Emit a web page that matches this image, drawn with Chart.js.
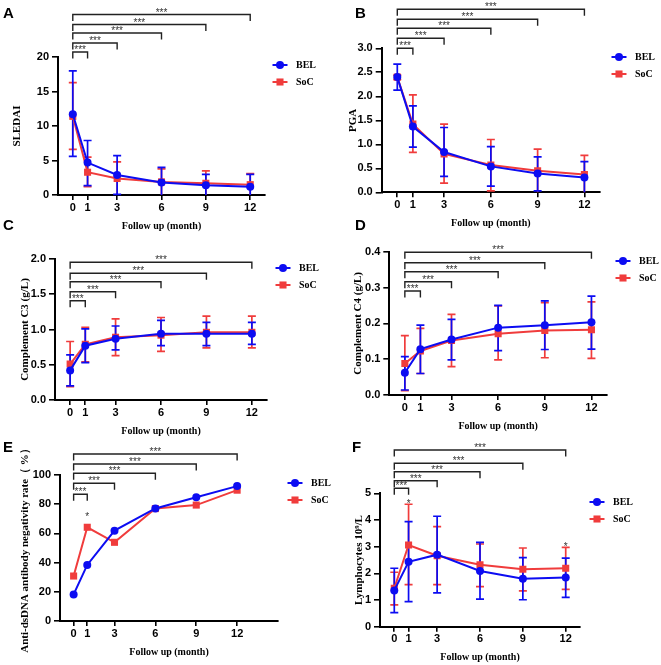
<!DOCTYPE html>
<html>
<head>
<meta charset="utf-8">
<script src="https://cdn.jsdelivr.net/npm/chart.js@4.4.0/dist/chart.umd.min.js"></script>
<style>
body { margin: 0; background: #fff; }
#wrap { position: relative; width: 661px; height: 665px; }
#wrap canvas { position: absolute; left: 0; top: 0; }
</style>
</head>
<body>
<div id="wrap">
  <canvas id="pA" width="661" height="665"></canvas>
  <canvas id="pB" width="661" height="665"></canvas>
  <canvas id="pC" width="661" height="665"></canvas>
  <canvas id="pD" width="661" height="665"></canvas>
  <canvas id="pE" width="661" height="665"></canvas>
  <canvas id="pF" width="661" height="665"></canvas>
</div>
<script>
// follow up months and groups
var months = [0, 1, 3, 6, 9, 12];
var groups = ['BEL', 'SoC'];
// brackets go from month 0 to these months (top to bottom)
var bracketTo = [12, 9, 6, 3, 1];
var bracketLabel = '***';

// A - SLEDAI (mean, lower and upper end of the error bar)
var sledaiBel   = [11.7, 4.7, 2.9, 1.8, 1.4, 1.2];
var sledaiBelLo = [5.6, 1.35, 0.1, 0, 0, 0];
var sledaiBelHi = [18.0, 7.9, 5.7, 4.0, 3.0, 3.0];
var sledaiSoc   = [11.4, 3.3, 2.4, 1.9, 1.7, 1.5];
var sledaiSocLo = [6.6, 1.2, 0, 0, 0, 0];
var sledaiSocHi = [16.3, 5.5, 4.8, 3.8, 3.5, 3.1];

// B - PGA
var pgaBel   = [2.40, 1.37, 0.84, 0.54, 0.39, 0.31];
var pgaBelLo = [2.13, 0.94, 0.33, 0.13, 0.03, 0];
var pgaBelHi = [2.67, 1.80, 1.35, 0.95, 0.74, 0.64];
var pgaSoc   = [2.40, 1.42, 0.80, 0.57, 0.45, 0.37];
var pgaSocLo = [2.35, 0.83, 0.19, 0.03, 0, 0];
var pgaSocHi = [2.44, 2.03, 1.42, 1.10, 0.90, 0.77];

// C - complement C3
var c3Bel   = [0.42, 0.77, 0.87, 0.94, 0.94, 0.94];
var c3BelLo = [0.20, 0.53, 0.71, 0.77, 0.77, 0.79];
var c3BelHi = [0.64, 1.01, 1.05, 1.13, 1.10, 1.10];
var c3Soc   = [0.51, 0.79, 0.89, 0.92, 0.96, 0.96];
var c3SocLo = [0.19, 0.54, 0.63, 0.69, 0.74, 0.74];
var c3SocHi = [0.83, 1.03, 1.15, 1.17, 1.19, 1.19];

// D - complement C4
var c4Bel   = [0.062, 0.128, 0.155, 0.188, 0.195, 0.203];
var c4BelLo = [0.014, 0.060, 0.098, 0.124, 0.127, 0.128];
var c4BelHi = [0.107, 0.195, 0.211, 0.250, 0.263, 0.276];
var c4Soc   = [0.088, 0.123, 0.152, 0.171, 0.180, 0.182];
var c4SocLo = [0.012, 0.060, 0.079, 0.098, 0.104, 0.102];
var c4SocHi = [0.166, 0.186, 0.225, 0.249, 0.258, 0.260];

// E - anti-dsDNA negativity rate (%)
var dsdnaBel = [18.2, 38.4, 61.9, 77.1, 84.7, 92.4];
var dsdnaSoc = [30.8, 64.2, 53.9, 77.0, 79.4, 89.6];

// F - lymphocytes
var lymBel   = [1.36, 2.43, 2.70, 2.09, 1.80, 1.84];
var lymBelLo = [0.53, 0.94, 1.27, 1.03, 1.01, 1.10];
var lymBelHi = [2.19, 3.94, 4.14, 3.16, 2.59, 2.57];
var lymSoc   = [1.44, 3.06, 2.66, 2.32, 2.15, 2.19];
var lymSocLo = [0.82, 1.58, 1.58, 1.50, 1.34, 1.40];
var lymSocHi = [2.04, 4.59, 3.75, 3.10, 2.95, 2.97];

var BLUE = '#0c0cf2';
var RED = '#f03c3c';
var SERIF = '"Liberation Serif", "Times New Roman", serif';
var SANS = '"Liberation Sans", Arial, sans-serif';

// layout of each panel (pixels in the page)
var panels = [
  { id: 'pA', letter: 'A', lx: 3, ly: 18, left: 58, top: 57, right: 265, bottom: 195, xMax: 13,
    yMax: 20, yStep: 5, dec: 0, yTitle: 'SLEDAI', yTitleX: 17,
    bel: sledaiBel, belLo: sledaiBelLo, belHi: sledaiBelHi, soc: sledaiSoc, socLo: sledaiSocLo, socHi: sledaiSocHi,
    legX: 280, legY: 65, brackets: [14.5, 24.5, 33, 43, 52], stars: [] },
  { id: 'pB', letter: 'B', lx: 355, ly: 18, left: 381.7, top: 48.3, right: 600, bottom: 192.3, xMax: 13,
    yMax: 3, yStep: 0.5, dec: 1, yTitle: 'PGA', yTitleX: 353,
    bel: pgaBel, belLo: pgaBelLo, belHi: pgaBelHi, soc: pgaSoc, socLo: pgaSocLo, socHi: pgaSocHi,
    legX: 619, legY: 57, brackets: [9.3, 19.3, 28.3, 38.3, 48.3], stars: [] },
  { id: 'pC', letter: 'C', lx: 3, ly: 230, left: 55, top: 259, right: 267, bottom: 400, xMax: 13,
    yMax: 2, yStep: 0.5, dec: 1, yTitle: 'Complement C3 (g/L)', yTitleX: 25,
    bel: c3Bel, belLo: c3BelLo, belHi: c3BelHi, soc: c3Soc, socLo: c3SocLo, socHi: c3SocHi,
    legX: 283, legY: 268, brackets: [262.3, 273.3, 281.7, 291.7, 300.7], stars: [] },
  { id: 'pD', letter: 'D', lx: 355, ly: 230, left: 389.3, top: 251.7, right: 607, bottom: 395, xMax: 13,
    yMax: 0.4, yStep: 0.1, dec: 1, yTitle: 'Complement C4 (g/L)', yTitleX: 358,
    bel: c4Bel, belLo: c4BelLo, belHi: c4BelHi, soc: c4Soc, socLo: c4SocLo, socHi: c4SocHi,
    legX: 623, legY: 261, brackets: [252.3, 262.7, 271.7, 281.7, 291], stars: [] },
  { id: 'pE', letter: 'E', lx: 3, ly: 452, left: 60, top: 475, right: 278, bottom: 621, xMax: 15,
    yMax: 100, yStep: 20, dec: 0, yTitle: 'Anti-dsDNA antibody negativity rate\uFF08 %\uFF09', yTitleX: 25,
    bel: dsdnaBel, belLo: null, belHi: null, soc: dsdnaSoc, socLo: null, socHi: null,
    legX: 295, legY: 483, brackets: [454, 464, 473.3, 483.3, 494.3], stars: [{ m: 1, on: 'soc', gap: 13 }] },
  { id: 'pF', letter: 'F', lx: 352, ly: 452, left: 380, top: 493.3, right: 580, bottom: 626.7, xMax: 13,
    yMax: 5, yStep: 1, dec: 0, yTitle: 'Lymphocytes 10\u2079/L', yTitleX: 359,
    bel: lymBel, belLo: lymBelLo, belHi: lymBelHi, soc: lymSoc, socLo: lymSocLo, socHi: lymSocHi,
    legX: 597, legY: 502, brackets: [450, 463.3, 471.7, 480.7, 488.3],
    stars: [{ m: 1, on: 'socHi', gap: 3 }, { m: 12, on: 'socHi', gap: 3 }] }
];

function pairs(vals) {
  return months.map(function (m, i) { return { x: m, y: vals[i] }; });
}

function errorBars(ctx, xs, ys, lo, hi, color) {
  if (!lo) return;
  ctx.save();
  ctx.strokeStyle = color;
  ctx.lineWidth = 1.7;
  for (var i = 0; i < months.length; i++) {
    var x = xs.getPixelForValue(months[i]);
    var y1 = ys.getPixelForValue(lo[i]);
    var y2 = ys.getPixelForValue(hi[i]);
    ctx.beginPath();
    ctx.moveTo(x, y1); ctx.lineTo(x, y2);
    ctx.moveTo(x - 4, y2); ctx.lineTo(x + 4, y2);
    if (lo[i] > 0) { ctx.moveTo(x - 4, y1); ctx.lineTo(x + 4, y1); }
    ctx.stroke();
  }
  ctx.restore();
}

function decor(p) {
  return {
    id: 'decor',
    beforeDatasetsDraw: function (chart) {
      var xs = chart.scales.x, ys = chart.scales.y;
      errorBars(chart.ctx, xs, ys, p.socLo, p.socHi, RED);
      errorBars(chart.ctx, xs, ys, p.belLo, p.belHi, BLUE);
    },
    afterDraw: function (chart) {
      var ctx = chart.ctx, xs = chart.scales.x, ys = chart.scales.y, area = chart.chartArea;
      ctx.save();
      // panel letter
      ctx.fillStyle = '#000';
      ctx.font = 'bold 15px ' + SANS;
      ctx.textAlign = 'left';
      ctx.textBaseline = 'alphabetic';
      ctx.fillText(p.letter, p.lx, p.ly);
      // axis titles
      ctx.font = 'bold 10px ' + SERIF;
      ctx.textAlign = 'center';
      ctx.textBaseline = 'middle';
      ctx.fillText('Follow up (month)', (area.left + area.right) / 2, area.bottom + 31);
      ctx.save();
      ctx.font = 'bold 11px ' + SERIF;
      ctx.translate(p.yTitleX, (area.top + area.bottom) / 2);
      ctx.rotate(-Math.PI / 2);
      ctx.fillText(p.yTitle, 0, 0);
      ctx.restore();
      // legend
      var leg = [[BLUE, 'circle', 4], [RED, 'rect', 5]];
      for (var g = 0; g < groups.length; g++) {
        var ly = p.legY + g * 17;
        ctx.strokeStyle = leg[g][0];
        ctx.fillStyle = leg[g][0];
        ctx.lineWidth = 2;
        ctx.beginPath();
        ctx.moveTo(p.legX - 7.5, ly); ctx.lineTo(p.legX + 7.5, ly);
        ctx.stroke();
        Chart.helpers.drawPoint(ctx, { pointStyle: leg[g][1], radius: leg[g][2], borderWidth: 0 }, p.legX, ly);
        ctx.fillStyle = '#000';
        ctx.font = 'bold 10px ' + SERIF;
        ctx.textAlign = 'left';
        ctx.fillText(groups[g], p.legX + 16, ly + 0.5);
      }
      // significance brackets
      var x0 = xs.getPixelForValue(0);
      ctx.strokeStyle = '#222';
      ctx.lineWidth = 1.4;
      ctx.fillStyle = '#333';
      ctx.font = '10px ' + SANS;
      ctx.textAlign = 'center';
      ctx.textBaseline = 'alphabetic';
      for (var b = 0; b < bracketTo.length; b++) {
        var x1 = xs.getPixelForValue(bracketTo[b]);
        var by = p.brackets[b];
        ctx.beginPath();
        ctx.moveTo(x0, by + 6.5); ctx.lineTo(x0, by); ctx.lineTo(x1, by); ctx.lineTo(x1, by + 6.5);
        ctx.stroke();
        ctx.fillText(bracketLabel, (x0 + x1) / 2, by + 1);
      }
      // single stars
      p.stars.forEach(function (s) {
        var idx = months.indexOf(s.m);
        var sy = ys.getPixelForValue(p[s.on][idx]) - s.gap;
        ctx.fillText('*', xs.getPixelForValue(s.m), sy + 5.5);
      });
      ctx.restore();
    }
  };
}

function drawPanel(p) {
  var tickFont = { family: SANS, size: 11, weight: 'bold' };
  new Chart(document.getElementById(p.id), {
    type: 'line',
    data: {
      datasets: [
        { label: groups[0], data: pairs(p.bel), borderColor: BLUE, backgroundColor: BLUE,
          borderWidth: 2, pointStyle: 'circle', pointRadius: 4, pointBorderWidth: 0, tension: 0 },
        { label: groups[1], data: pairs(p.soc), borderColor: RED, backgroundColor: RED,
          borderWidth: 2, pointStyle: 'rect', pointRadius: 5, pointBorderWidth: 0, tension: 0 }
      ]
    },
    options: {
      responsive: false,
      animation: false,
      devicePixelRatio: 1,
      events: [],
      layout: { padding: { left: p.left - 40, top: p.top, right: 661 - p.right, bottom: 665 - p.bottom - 28 } },
      plugins: { legend: { display: false }, tooltip: { enabled: false } },
      scales: {
        x: {
          type: 'linear', min: -1, max: p.xMax,
          afterFit: function (s) { s.height = 28; },
          afterBuildTicks: function (s) { s.ticks = months.map(function (m) { return { value: m }; }); },
          ticks: { font: tickFont, color: '#000', padding: 1, autoSkip: false, maxRotation: 0 },
          grid: { drawOnChartArea: false, color: '#000', lineWidth: 1.6, tickLength: 5 },
          border: { color: '#000', width: 2 }
        },
        y: {
          min: 0, max: p.yMax,
          afterFit: function (s) { s.width = 40; },
          ticks: { stepSize: p.yStep, font: tickFont, color: '#000', padding: 3,
                   callback: function (v) { return v.toFixed(p.dec); } },
          grid: { drawOnChartArea: false, color: '#000', lineWidth: 1.6, tickLength: 6 },
          border: { color: '#000', width: 2 }
        }
      }
    },
    plugins: [decor(p)]
  });
}

panels.forEach(drawPanel);
</script>
</body>
</html>
